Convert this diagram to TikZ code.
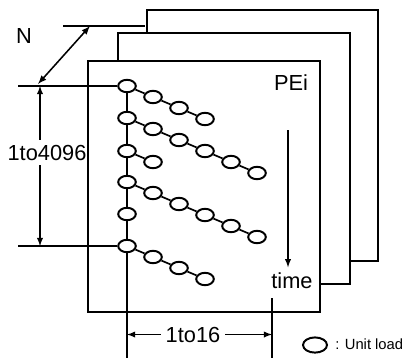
\documentclass[tikz,border=0pt]{standalone}
\usepackage{fontspec}
\setmainfont{Liberation Sans}
\usetikzlibrary{shapes.geometric}
\tikzset{
  unitload/.style={draw,ellipse,line width=1.4pt,inner sep=0pt,minimum width=0.44cm,minimum height=0.31cm},
  frame/.style={line width=1.4pt},
  lbl/.style={font=\fontsize{15.5}{18}\selectfont,anchor=base}
}
\begin{document}
\begin{tikzpicture}[x=0.025cm,y=-0.025cm]
	\useasboundingbox (0,0) rectangle (411,358);
	% the three PE planes
	\draw[frame] (147,33) -- (147,10) -- (378,10) -- (378,261) -- (350,261);
	\draw[frame] (118,61) -- (118,33) -- (350,33) -- (350,284) -- (320,284);
	\draw[frame] (88,61) rectangle (320,312);
	
	\node[lbl] (pei) at (291,90) {PEi};
	\node[lbl] (timelab) at (292,288) {time};
	\coordinate (tstart) at (288,130);
	\draw[-latex,line width=1pt] (tstart) -- (timelab.north -| tstart);
	
	% unit loads
	\foreach \row/\yy/\len in {1/86/3,2/118/5,3/151/1,4/182/5,5/214/0,6/246/3}{
		\node[unitload] (u\row-0) at (127,\yy) {};
		\ifnum\len>0
		\foreach \k [remember=\k as \prev (initially 0)] in {1,...,\len}{
			\node[unitload] (u\row-\k) at (127+26*\k,\yy+11*\k) {};
			\draw[line width=1.2pt] (u\row-\prev) -- (u\row-\k);}
		\fi
	}
	\foreach \a/\b in {1/2,2/3,3/4,4/5,5/6}
		\draw[line width=1.4pt] (u\a-0) -- (u\b-0);
	\coordinate (colbot) at (127,358);
	\draw[line width=1.4pt] (u6-0) -- (colbot);
	
	% N
	\coordinate (nl) at (63,26);
	\coordinate (nr) at (145,26);
	\draw[line width=1pt] (nl) -- (nr);
	\coordinate (ntop) at (90,26);
	\coordinate (nbot) at (38,84);
	\draw[latex-latex,line width=1.1pt] (nbot) -- (ntop);
	\node[lbl] (nlab) at (24,43) {N};
	
	% 1to4096
	\coordinate (hl1) at (18,86);
	\coordinate (hl2) at (18,246);
	\draw[line width=0.9pt] (hl1) -- (u1-0);
	\draw[line width=1pt] (hl2) -- (u6-0);
	\coordinate (dimtop) at (40,86);
	\coordinate (dimbot) at (40,246);
	\node[lbl] (lrows) at (47,160) {1to4096};
	\draw[-latex,line width=1pt] (dimtop |- lrows.north) -- (dimtop);
	\draw[-latex,line width=1pt] (dimbot |- lrows.south) -- (dimbot);
	
	% 1to16
	\coordinate (rtop) at (272,298);
	\coordinate (rbot) at (272,358);
	\draw[line width=1.4pt] (rtop) -- (rbot);
	\node[lbl] (lcols) at (193,342) {1to16};
	\draw[-latex,line width=1pt] (lcols.west) -- (lcols.west -| colbot);
	\draw[-latex,line width=1pt] (lcols.east) -- (lcols.east -| rtop);
	
	% legend
	\node[unitload,minimum width=0.6cm,minimum height=0.38cm] (leg) at (315,345) {};
	\node[anchor=base west,font=\fontsize{10.5}{12}\selectfont,inner sep=0pt] (legtxt) at (335,349) {: Unit load};
\end{tikzpicture}
\end{document}
